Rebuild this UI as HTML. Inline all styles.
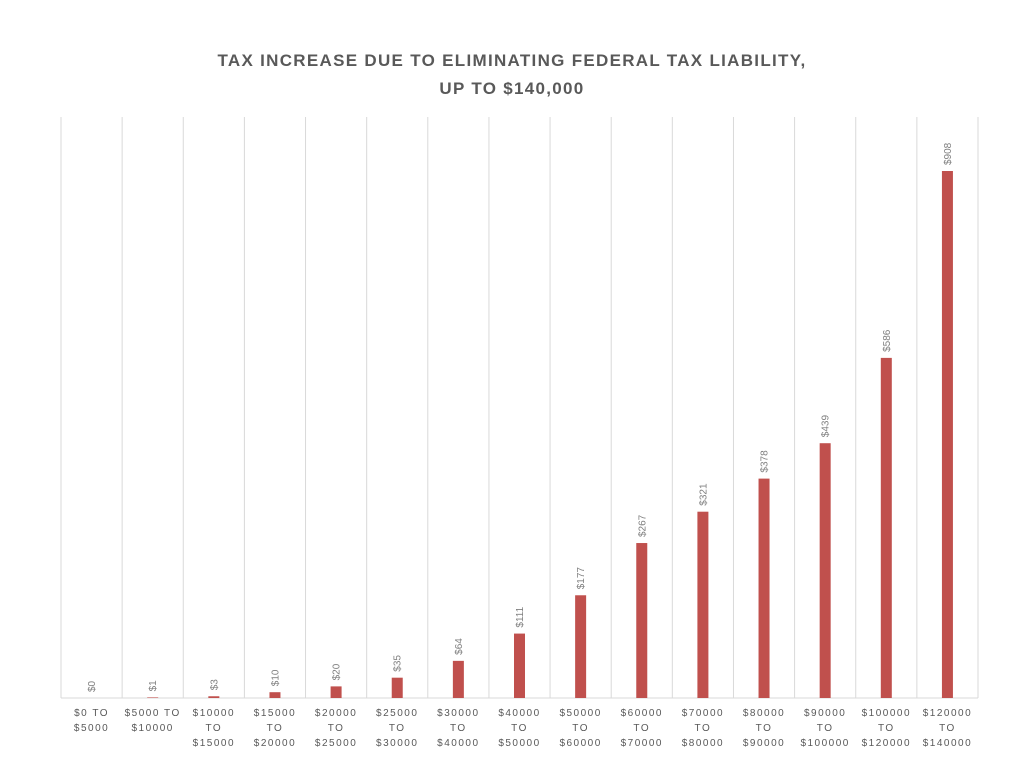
<!DOCTYPE html>
<html><head><meta charset="utf-8"><style>
html,body{margin:0;padding:0;background:#fff;}
svg{display:block;font-family:"Liberation Sans",sans-serif;}
</style></head><body>
<svg id="chart" width="1024" height="768">
<text x="512" y="66" text-anchor="middle" font-size="17" font-weight="bold" fill="#595959" letter-spacing="1.3">TAX INCREASE DUE TO ELIMINATING FEDERAL TAX LIABILITY,</text>
<text x="512" y="94" text-anchor="middle" font-size="17" font-weight="bold" fill="#595959" letter-spacing="1.3">UP TO $140,000</text>
<g id="grid"></g><g id="bars"></g><g id="labels"></g><g id="xlabels"></g>
</svg>
<script>
const categories=[["$0 TO","$5000"],["$5000 TO","$10000"],["$10000","TO","$15000"],["$15000","TO","$20000"],["$20000","TO","$25000"],["$25000","TO","$30000"],["$30000","TO","$40000"],["$40000","TO","$50000"],["$50000","TO","$60000"],["$60000","TO","$70000"],["$70000","TO","$80000"],["$80000","TO","$90000"],["$90000","TO","$100000"],["$100000","TO","$120000"],["$120000","TO","$140000"]];
const values=[0,1,3,10,20,35,64,111,177,267,321,378,439,586,908];
const valueLabels=["$0","$1","$3","$10","$20","$35","$64","$111","$177","$267","$321","$378","$439","$586","$908"];
const NS="http://www.w3.org/2000/svg";
const x0=61,x1=978,yBase=698,yTop=117,maxV=908,maxPx=527;
const bw=(x1-x0)/categories.length;
const xs=i=>x0+bw*i;
const ys=v=>yBase-v*maxPx/maxV;
function mk(t,a,p){const e=document.createElementNS(NS,t);for(const k in a)e.setAttribute(k,a[k]);p.appendChild(e);return e;}
const grid=document.getElementById('grid'),bars=document.getElementById('bars'),labels=document.getElementById('labels'),xl=document.getElementById('xlabels');
for(let i=0;i<=categories.length;i++){
const l=mk('line',{x1:xs(i),x2:xs(i),y1:yTop,y2:yBase,stroke:'#d9d9d9','stroke-width':1},grid);


}
const ax=mk('line',{x1:x0,x2:x1,y1:yBase,y2:yBase,stroke:'#d9d9d9','stroke-width':1},grid);


values.forEach((v,i)=>{
const cx=xs(i)+bw/2;
const h=yBase-ys(v);
const r=mk('rect',{x:cx-5.5,y:ys(v),width:11,height:Math.max(h,0),fill:'#c0504d'},bars);


const ly=ys(v)-6;
const t=mk('text',{x:cx+3.5,y:ly,'font-size':10,fill:'#7f7f7f','text-anchor':'start',transform:`rotate(-90 ${cx+3.5} ${ly})`},labels);
t.textContent=valueLabels[i];


categories[i].forEach((s,j)=>{
const tt=mk('text',{x:cx,y:716+j*15,'font-size':10,fill:'#595959','text-anchor':'middle','letter-spacing':1.5},xl);
tt.textContent=s;


});
});
</script>
</body></html>
